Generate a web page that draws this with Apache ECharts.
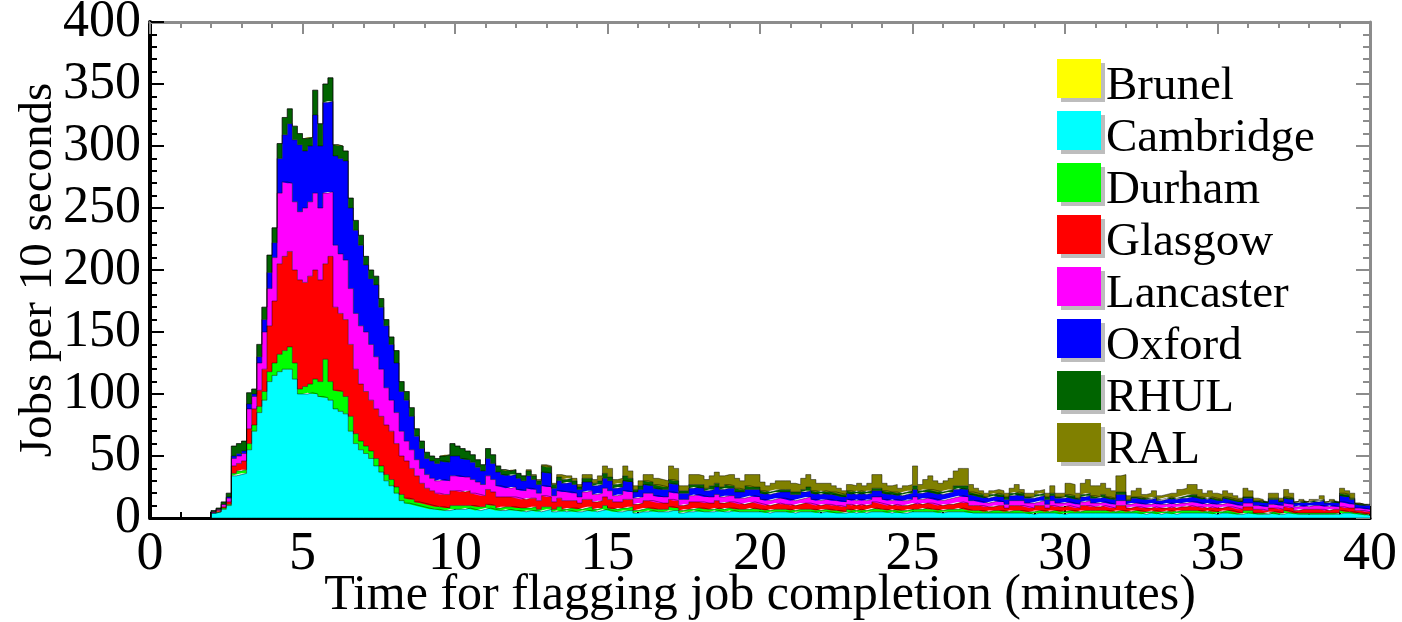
<!DOCTYPE html>
<html>
<head>
<meta charset="utf-8">
<title>Time for flagging job completion</title>
<script src="https://cdn.jsdelivr.net/npm/echarts@6/dist/echarts.min.js"></script>
<style>
  html, body { margin: 0; padding: 0; background: #ffffff; }
  #chart { width: 1402px; height: 622px; }
</style>
</head>
<body>
<div id="chart"></div>
<script>
// Histogram of job completion times, 10-second bins over 0-40 minutes (240 bins).
const binMinutes = 1 / 6;

const sites = ['Brunel', 'Cambridge', 'Durham', 'Glasgow', 'Lancaster', 'Oxford', 'RHUL', 'RAL'];
const siteColors = ['#ffff00', '#00ffff', '#00ff00', '#ff0000', '#ff00ff', '#0000ff', '#006400', '#808000'];

const xTicks = [0, 5, 10, 15, 20, 25, 30, 35, 40];
const yTicks = [0, 50, 100, 150, 200, 250, 300, 350, 400];

// Jobs per 10-second bin, one array per site (stacked in the order of `sites`).
const brunel = [
  0,0,0,0,0,0,0,0,0,0,0,0,0,0,0,0,0,0,0,0,
  0,0,0,0,0,0,0,0,0,0,0,0,0,0,0,0,0,0,0,0,
  0,0,0,0,0,0,0,0,0,0,0,0,0,0,0,0,0,0,0,0,
  0,0,0,0,0,0,0,0,0,0,0,0,0,0,0,0,0,0,0,0,
  0,0,0,0,0,0,0,0,0,0,0,0,0,0,0,0,0,0,0,0,
  0,0,0,0,0,0,0,0,0,0,0,0,0,0,0,0,0,0,0,0,
  0,0,0,0,0,0,0,0,0,0,0,0,0,0,0,0,0,0,0,0,
  0,0,0,0,0,0,0,0,0,0,0,0,0,0,0,0,0,0,0,0,
  0,0,0,0,0,0,0,0,0,0,0,0,0,0,0,0,0,0,0,0,
  0,0,0,0,0,0,0,0,0,0,0,0,0,0,0,0,0,0,0,0,
  0,0,0,0,0,0,0,0,0,0,0,0,0,0,0,0,0,0,0,0,
  0,0,0,0,0,0,0,0,0,0,0,0,0,0,0,0,0,0,0,0
];
const cambridge = [
  0,0,0,0,0,0,0,0,0,0,0,0,4,5,7,10,34,35,36,55,
  70,85,95,110,115,118,120,120,112,100,100,101,100,98,97,95,88,86,84,70,
  60,55,52,48,42,37,30,26,20,14,12,11,10,9,8,7,7,6,6,7,
  7,7,8,7,6,7,8,7,6,6,7,6,6,5,6,6,5,6,7,5,
  6,5,6,5,5,6,6,5,6,7,6,5,5,6,6,4,5,5,6,5,
  5,5,6,6,4,5,5,6,5,5,5,6,5,5,6,5,5,5,5,5,
  5,4,5,5,5,5,4,5,5,5,5,4,5,5,4,4,4,5,4,5,
  4,5,5,5,5,4,5,4,4,5,5,5,5,5,5,4,5,5,5,5,
  5,4,4,4,4,4,4,4,4,4,4,4,4,3,4,4,4,4,4,3,
  4,4,4,4,4,4,4,4,4,4,4,4,4,4,4,3,4,4,3,4,
  4,3,4,4,4,4,4,4,4,3,4,4,4,3,3,4,4,3,3,3,
  4,3,3,4,4,3,3,3,3,3,3,3,3,3,4,4,4,3,3,2
];
const durham = [
  0,0,0,0,0,0,0,0,0,0,0,0,0,0,1,1,2,3,3,5,
  5,5,7,8,10,14,15,18,13,4,6,7,12,12,31,15,15,16,14,12,
  8,7,6,6,6,5,5,5,5,5,4,4,3,3,3,3,2,3,2,3,
  3,3,2,3,3,2,3,3,2,3,2,3,2,3,2,3,2,3,2,2,
  3,2,2,3,2,2,3,2,2,3,2,2,3,2,3,2,2,3,2,2,
  2,2,3,2,2,2,2,2,3,2,2,2,2,3,2,2,2,2,3,2,
  2,2,2,2,2,2,2,2,2,2,2,2,2,2,2,2,1,2,2,2,
  2,2,3,2,2,2,2,2,2,2,2,2,3,2,2,2,2,2,2,3,
  2,2,2,2,1,2,2,2,1,2,2,2,1,2,2,2,1,2,2,2,
  2,2,1,2,2,2,2,2,2,1,2,2,1,2,2,2,1,2,2,1,
  2,2,2,2,2,2,2,1,2,2,1,2,2,2,1,2,2,1,1,1,
  1,2,1,2,1,1,1,1,1,1,1,1,1,1,2,1,1,1,1,1
];
const glasgow = [
  0,0,0,0,0,0,0,0,0,0,0,0,0,1,1,2,6,6,7,12,
  13,13,18,37,50,73,76,77,75,88,84,87,88,82,77,101,67,63,62,58,
  52,46,44,41,40,40,40,39,35,31,30,25,21,16,13,12,11,10,11,12,
  12,11,12,10,10,9,12,11,9,8,8,8,8,7,8,7,7,9,8,6,
  7,7,6,6,5,7,6,6,6,7,7,6,5,7,6,5,5,6,6,6,
  5,5,6,6,4,4,6,5,5,5,5,6,5,5,5,5,4,5,5,5,
  4,4,4,5,4,4,4,4,5,5,4,4,4,4,4,4,4,4,4,4,
  4,4,5,5,4,4,4,4,4,4,5,4,4,5,4,4,4,4,5,5,
  5,4,4,4,4,3,4,4,3,4,4,4,4,3,4,4,3,4,3,4,
  4,3,3,4,4,3,3,4,3,3,4,4,3,3,3,3,3,3,3,3,
  3,3,3,3,4,3,3,3,3,3,3,3,3,3,3,3,3,3,3,2,
  3,3,3,3,3,2,3,3,3,3,3,2,3,3,3,3,3,2,2,2
];
const lancaster = [
  0,0,0,0,0,0,0,0,0,0,0,0,1,1,2,3,6,6,6,16,
  10,22,30,30,35,57,60,55,55,55,60,60,62,58,57,52,50,48,48,45,
  45,47,48,45,42,38,30,25,25,20,16,15,13,12,11,10,10,12,11,12,
  12,12,11,11,10,9,11,10,9,8,7,8,7,7,8,7,6,8,8,5,
  6,7,7,6,5,6,7,6,6,7,7,5,6,7,6,5,5,6,6,5,
  5,5,6,6,5,4,5,6,5,5,5,5,5,5,5,4,5,5,5,5,
  4,4,4,4,5,4,4,4,4,5,4,4,4,4,4,4,4,4,4,4,
  4,4,4,5,4,4,4,4,4,4,5,4,4,4,4,4,4,5,5,5,
  5,4,4,3,3,4,4,3,3,4,4,4,3,4,3,4,3,4,3,3,
  3,3,3,3,4,3,3,3,3,3,4,4,3,3,3,3,3,3,3,3,
  3,3,3,3,3,4,3,3,3,3,3,3,3,3,3,3,3,3,3,3,
  3,3,3,3,3,3,3,2,3,3,3,3,3,2,4,4,3,2,2,2
];
const oxford = [
  0,0,0,0,0,0,0,0,0,0,0,0,0,0,0,1,2,2,2,4,
  2,5,10,13,12,28,38,48,50,54,46,45,63,50,73,73,72,77,80,65,
  67,65,54,53,58,50,50,45,40,32,33,27,19,16,13,14,14,15,15,16,
  16,15,14,14,12,11,14,13,11,10,10,10,9,8,10,8,7,11,11,6,
  8,7,8,7,6,8,7,7,7,8,8,6,6,8,8,5,6,7,6,6,
  6,6,7,7,5,5,6,6,6,5,6,6,6,6,6,5,5,6,5,6,
  5,5,5,5,5,6,5,4,5,5,5,5,5,4,5,4,4,5,5,5,
  5,5,5,5,5,5,4,4,5,5,6,5,5,5,5,5,5,5,6,6,
  6,5,4,4,4,4,4,4,4,4,5,4,4,4,4,4,4,4,4,4,
  4,4,4,4,4,4,4,4,4,4,5,5,3,4,4,4,4,4,3,4,
  4,4,4,4,4,4,4,4,4,4,3,4,3,3,3,4,4,3,3,3,
  4,4,3,4,4,3,3,3,3,3,4,3,3,3,5,5,4,3,2,3
];
const rhul = [
  0,0,0,0,0,0,0,0,0,0,0,0,1,1,2,3,8,8,8,9,
  4,10,10,14,12,12,14,12,11,9,10,7,20,18,15,19,9,10,8,8,
  8,8,7,7,7,7,5,6,10,8,7,7,6,6,5,4,4,4,6,10,
  8,8,7,6,6,5,8,7,5,4,4,4,4,4,4,3,3,5,5,3,
  3,3,3,3,2,3,3,2,3,4,3,3,3,4,3,2,3,3,3,3,
  3,2,3,3,2,2,3,2,3,2,3,3,2,3,2,3,2,3,2,2,
  2,2,2,2,2,2,2,2,2,3,2,2,2,2,2,2,2,2,2,2,
  2,2,2,2,2,2,2,2,2,2,3,2,2,2,2,2,2,2,3,2,
  3,2,2,2,1,2,2,2,2,2,2,2,1,1,2,2,2,2,1,1,
  2,2,1,2,2,2,1,2,1,1,2,2,1,1,1,1,1,1,1,1,
  1,1,1,2,2,2,1,1,1,1,1,1,1,1,1,1,1,1,1,1,
  1,1,1,1,1,1,1,1,1,1,1,1,1,1,2,2,1,1,1,1
];
const ral = [
  0,0,0,0,0,0,0,0,0,0,0,0,0,0,0,0,0,0,0,0,
  0,0,0,0,0,0,0,0,0,0,0,0,0,0,0,0,0,0,0,0,
  0,0,0,0,0,0,0,0,0,0,0,0,0,0,0,0,0,0,0,0,
  0,0,0,0,0,0,0,0,0,0,0,0,0,0,1,1,1,1,1,1,
  2,3,2,2,2,3,3,3,4,6,7,4,4,8,6,3,4,5,6,5,
  5,5,11,10,4,4,8,8,7,7,8,9,9,8,9,8,7,9,10,10,
  7,5,6,7,7,7,7,6,9,10,9,7,6,7,5,4,3,5,5,6,
  5,6,11,11,6,5,6,4,5,5,16,5,8,11,8,7,8,9,12,14,
  14,6,4,3,3,3,3,3,3,4,6,3,3,3,3,3,3,6,3,3,
  9,9,4,9,11,8,9,9,7,6,13,14,3,5,7,3,4,5,3,3,
  3,4,6,6,8,8,6,4,5,4,4,5,4,3,2,7,5,2,1,0,
  4,4,2,6,4,0,1,0,1,1,3,0,1,0,4,3,4,0,0,0
];

const siteCounts = [brunel, cambridge, durham, glasgow, lancaster, oxford, rhul, ral];

const FONT = '"Liberation Serif", "DejaVu Serif", serif';

// Bin edges in minutes (241 edges for 240 bins); the hidden category axis carries them
// so that the sites stack bin by bin.
const binEdges = [];
for (let i = 0; i <= brunel.length; i++) binEdges.push((i * binMinutes).toFixed(3));

// Each bin is drawn as a step from its left edge; the last edge repeats the final bin.
function binSteps(values) {
  return values.concat([values[values.length - 1]]);
}

const series = sites.map((name, k) => ({
  name: name,
  type: 'line',
  step: 'end',
  stack: 'sites',
  xAxisIndex: 0,
  yAxisIndex: 0,
  showSymbol: false,
  symbol: 'none',
  silent: true,
  animation: false,
  data: binSteps(siteCounts[k]),
  lineStyle: { color: 'rgba(0,0,0,0.45)', width: 1 },
  areaStyle: { color: siteColors[k], opacity: 1 },
  itemStyle: { color: siteColors[k] }
}));

// Legend swatch: a 44x39 box in the upper part of a 44x56 cell (the zero-area
// segment along the bottom only fixes the cell size), so each label sits a
// little below its swatch's centre.
const swatchIcon = 'path://M0,0L44,0L44,39L0,39ZM0,56L44,56';

const chart = echarts.init(document.getElementById('chart'), null, { renderer: 'canvas' });

chart.setOption({
  backgroundColor: '#ffffff',
  animation: false,
  grid: { left: 150, right: 32, top: 22, bottom: 104, containLabel: false, outerBoundsMode: 'none' },
  legend: {
    orient: 'vertical',
    left: 1052,
    top: 54,
    itemWidth: 44,
    itemHeight: 56,
    itemGap: -4,
    icon: swatchIcon,
    selectedMode: false,
    textStyle: { fontFamily: FONT, fontSize: 47, color: '#000' },
    itemStyle: { borderWidth: 0, shadowColor: '#bdbdbd', shadowOffsetX: 4, shadowOffsetY: 4, shadowBlur: 0 },
    data: sites.map((name, k) => ({ name: name, itemStyle: { color: siteColors[k] } }))
  },
  xAxis: [
    {
      // bin edges for the stacked histogram (not drawn)
      type: 'category', data: binEdges, boundaryGap: false, show: false
    },
    {
      type: 'value', position: 'bottom', min: xTicks[0], max: xTicks[xTicks.length - 1], interval: 5,
      splitLine: { show: false },
      axisLine: { show: true, onZero: false, lineStyle: { color: '#000', width: 3 } },
      axisTick: { show: true, inside: true, length: 12, lineStyle: { color: '#000', width: 2 } },
      minorTick: { show: true, splitNumber: 5, length: 6, lineStyle: { color: '#000', width: 2 } },
      axisLabel: { fontFamily: FONT, fontSize: 54, color: '#000', margin: 10 },
      name: 'Time for flagging job completion (minutes)',
      nameLocation: 'middle',
      nameMoveOverlap: false,
      nameGap: 53,
      nameTextStyle: { fontFamily: FONT, fontSize: 50, color: '#000' }
    },
    {
      type: 'value', position: 'top', min: xTicks[0], max: xTicks[xTicks.length - 1], interval: 5,
      splitLine: { show: false },
      axisLine: { show: true, onZero: false, lineStyle: { color: '#8c8c8c', width: 3 } },
      axisTick: { show: true, inside: true, length: 12, lineStyle: { color: '#8c8c8c', width: 2 } },
      minorTick: { show: true, splitNumber: 5, length: 6, lineStyle: { color: '#8c8c8c', width: 2 } },
      axisLabel: { show: false }
    }
  ],
  yAxis: [
    {
      type: 'value', position: 'left', min: yTicks[0], max: yTicks[yTicks.length - 1], interval: 50,
      splitLine: { show: false },
      axisLine: { show: true, onZero: false, lineStyle: { color: '#000', width: 4 } },
      axisTick: { show: true, inside: true, length: 14, lineStyle: { color: '#000', width: 2 } },
      minorTick: { show: true, splitNumber: 5, length: 7, lineStyle: { color: '#000', width: 2 } },
      axisLabel: { fontFamily: FONT, fontSize: 52, color: '#000', margin: 9 },
      name: 'Jobs per 10 seconds',
      nameLocation: 'middle',
      nameMoveOverlap: false,
      nameGap: 88,
      nameTextStyle: { fontFamily: FONT, fontSize: 47, color: '#000' }
    },
    {
      type: 'value', position: 'right', min: yTicks[0], max: yTicks[yTicks.length - 1], interval: 50,
      splitLine: { show: false },
      axisLine: { show: true, onZero: false, lineStyle: { color: '#8c8c8c', width: 3 } },
      axisTick: { show: true, inside: true, length: 14, lineStyle: { color: '#8c8c8c', width: 2 } },
      minorTick: { show: true, splitNumber: 5, length: 7, lineStyle: { color: '#8c8c8c', width: 2 } },
      axisLabel: { show: false }
    }
  ],
  series: series
});
</script>
</body>
</html>
